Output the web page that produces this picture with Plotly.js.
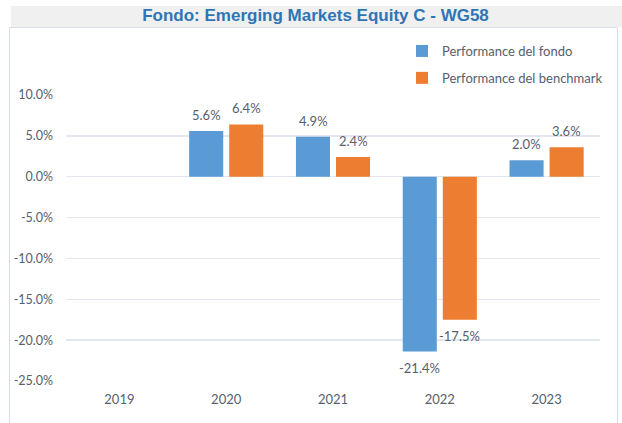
<!DOCTYPE html>
<html>
<head>
<meta charset="utf-8">
<script src="https://cdn.plot.ly/plotly-3.0.1.min.js"></script>
<style>html,body{margin:0;padding:0;background:#fff;}#chart{width:622px;height:423px;}</style>
</head>
<body>
<div id="chart"></div>
<script>
const years = ['2019', '2020', '2021', '2022', '2023'];
const fondo = [null, 5.6, 4.9, -21.4, 2.0];
const benchmark = [null, 6.4, 2.4, -17.5, 3.6];
const fondoName = 'Performance del fondo';
const benchName = 'Performance del benchmark';
const yTicks = [10, 5, 0, -5, -10, -15, -20, -25];
const titleText = 'Fondo: Emerging Markets Equity C - WG58';

const fmt = v => v.toFixed(1) + '%';
const textColor = '#56606e';
const labelFont = {family: 'Lato, Calibri, sans-serif', size: 13, color: textColor};
const tickFontY = {family: 'Lato, Calibri, sans-serif', size: 12.5, color: textColor};

const traces = [
  {type: 'bar', name: fondoName, x: years, y: fondo, legendgroup: 'a',
   marker: {color: '#5b9bd5'}, hoverinfo: 'none'},
  {type: 'bar', name: benchName, x: years, y: benchmark, legendgroup: 'b',
   marker: {color: '#ed7d31'}, hoverinfo: 'none'}
];

// value labels placed at each bar's end via data coordinates (category index)
const annotations = [];
[[fondo, -20], [benchmark, 20]].forEach(([vals, dx]) => {
  vals.forEach((v, i) => {
    if (v == null) return;
    annotations.push({
      x: i, y: v, xref: 'x', yref: 'y', text: fmt(v), showarrow: false,
      xshift: dx, yshift: v >= 0 ? 6 : -6, yanchor: v >= 0 ? 'bottom' : 'top',
      font: labelFont
    });
  });
});

const H = 286, T = 95, L = 66, W = 534;
const px2y = p => 1 + (T - p) / H;
const px2x = p => (p - L) / W;

const layout = {
  width: 622, height: 423,
  margin: {l: L, r: 622 - L - W, t: T, b: 423 - T - H},
  paper_bgcolor: '#ffffff', plot_bgcolor: '#ffffff',
  font: labelFont,
  title: {text: titleText, xref: 'container', x: 315.5 / 622, xanchor: 'center',
          yref: 'container', y: 1 - 15.5 / 423, yanchor: 'middle',
          font: {family: '"Liberation Sans", Arial, sans-serif', size: 17, color: '#2e75b6', weight: 'bold'}},
  barmode: 'group', bargap: 0.25, bargroupgap: 0.15,
  showlegend: true,
  legend: {x: px2x(402), xanchor: 'left', y: px2y(36), yanchor: 'top',
           traceorder: 'grouped', tracegroupgap: 7, font: labelFont,
           bgcolor: 'rgba(0,0,0,0)'},
  xaxis: {type: 'category', categoryorder: 'array', categoryarray: years,
          range: [-0.5, years.length - 0.5], showgrid: false, zeroline: false, showline: false,
          ticks: '', tickfont: labelFont, ticklabelstandoff: 9, fixedrange: true},
  yaxis: {range: [-25, 10], tickvals: yTicks, ticktext: yTicks.map(fmt),
          showgrid: true, gridcolor: '#e2e6ee', gridwidth: 1.5,
          zeroline: true, zerolinecolor: '#e2e6ee', zerolinewidth: 1.5,
          showline: false, ticks: '', tickfont: tickFontY, ticklabelstandoff: 12, fixedrange: true},
  annotations: annotations,
  shapes: [
    {type: 'rect', xref: 'paper', yref: 'paper', x0: px2x(11), x1: px2x(622), y0: px2y(27), y1: px2y(6),
     fillcolor: '#f0f0f0', line: {width: 0}, layer: 'below'},
    {type: 'rect', xref: 'paper', yref: 'paper', x0: px2x(9.5), x1: px2x(617.5), y0: px2y(430), y1: px2y(27.5),
     fillcolor: 'rgba(0,0,0,0)', line: {width: 1, color: '#d6dde6'}, layer: 'below'}
  ]
};

Plotly.newPlot('chart', traces, layout, {staticPlot: true, displayModeBar: false});
</script>
</body>
</html>
